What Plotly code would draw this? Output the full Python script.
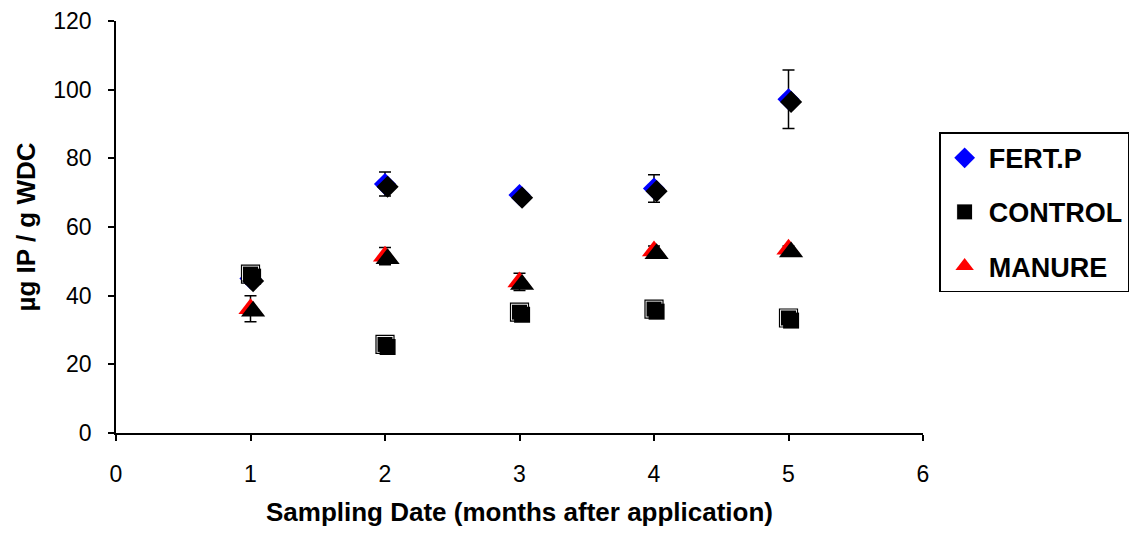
import plotly.graph_objects as go

months = [1, 2, 3, 4, 5]
fert_p = [45.0, 72.5, 69.3, 71.2, 97.2]
fert_err = [1.0, 3.5, 1.0, 4.0, 8.5]
control = [46.3, 25.8, 35.2, 36.1, 33.5]
control_err = [0.5, 0.5, 0.5, 0.5, 0.5]
manure = [36.2, 51.5, 44.0, 53.0, 53.5]
manure_err = [3.8, 2.5, 2.5, 1.5, 1.0]

x_ticks = [0, 1, 2, 3, 4, 5, 6]
y_ticks = [0, 20, 40, 60, 80, 100, 120]

font = "Liberation Sans, Arial, sans-serif"
fig = go.Figure()

# shadow offsets (in data units on overlay axes)
px_x = 807 / 6.0
px_y = 412 / 120.0
dx = 2.6 / px_x
dy = 2.6 / px_y

series = [
    ("FERT.P", fert_p, fert_err, "diamond", 17, "#0000FF"),
    ("CONTROL", control, control_err, "square", 16, "#000000"),
    ("MANURE", manure, manure_err, "triangle-up", 21, "#FF0000"),
]

# shadows
for name, vals, err, sym, size, col in series:
    fig.add_trace(go.Scatter(x=months, y=vals, mode="markers", xaxis="x2", yaxis="y2",
                             marker=dict(symbol=sym, size=size, color="black", line=dict(width=0)),
                             showlegend=False, hoverinfo="skip"))

for i, (name, vals, err, sym, size, col) in enumerate(series):
    if name == "CONTROL":
        mk = dict(symbol=sym, size=size, color="black", line=dict(color="white", width=1))
    else:
        mk = dict(symbol=sym, size=size, color=col, line=dict(width=0))
    fig.add_trace(go.Scatter(x=months, y=vals, mode="markers", name=name,
                             legendgroup=name,
                             marker=mk,
                             error_y=dict(type="data", array=err, color="black", thickness=1.5, width=6)))
    if name == "CONTROL":
        fig.add_trace(go.Scatter(x=months, y=vals, mode="markers", showlegend=False,
                                 marker=dict(symbol="square-open", size=size + 2, color="black",
                                             line=dict(color="black", width=1.2)),
                                 hoverinfo="skip"))

fig.update_layout(
    width=1131, height=539,
    margin=dict(l=116, r=208, t=21, b=106, autoexpand=False),
    paper_bgcolor="white", plot_bgcolor="white",
    font=dict(family=font, size=23, color="black"),
    showlegend=True,
    legend=dict(x=1.02, y=0.73, xanchor="left", yanchor="top",
                bordercolor="black", borderwidth=1.5, bgcolor="white",
                font=dict(family=font, size=27, color="black", weight="bold"),
                traceorder="grouped", tracegroupgap=16, itemwidth=38),
    xaxis=dict(range=[0, 6], tickvals=x_ticks, showgrid=False, zeroline=False,
               showline=True, linecolor="black", linewidth=1.5,
               ticks="outside", ticklen=6, tickcolor="black", tickwidth=1.5,
               tickfont=dict(size=23), ticklabelstandoff=14,
               title=dict(text="<b>Sampling Date (months after application)</b>",
                          font=dict(size=26), standoff=16)),
    yaxis=dict(range=[0, 120], tickvals=y_ticks, showgrid=False, zeroline=False,
               showline=True, linecolor="black", linewidth=1.5,
               ticks="outside", ticklen=6, tickcolor="black", tickwidth=1.5,
               tickfont=dict(size=23), ticklabelstandoff=12,
               title=dict(text="<b>µg IP / g WDC</b>", font=dict(size=26), standoff=10)),
    xaxis2=dict(range=[0 - dx, 6 - dx], overlaying="x", visible=False),
    yaxis2=dict(range=[0 + dy, 120 + dy], overlaying="y", visible=False),
)

fig.write_html("out.html", config={"displayModeBar": False},
               post_script="document.body.style.margin='0';")
